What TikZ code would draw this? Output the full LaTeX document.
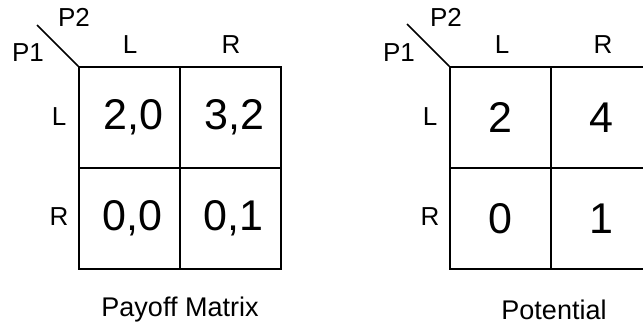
\documentclass[tikz,border=0pt]{standalone}
\usepackage{fontspec}
\setmainfont{Liberation Sans}
\begin{document}
\begin{tikzpicture}[x=1pt,y=-1pt,
  cell/.style={draw,line width=1.6pt,minimum width=101pt,minimum height=101pt,inner sep=0pt,font=\fontsize{43}{45}\selectfont},
  lab/.style={font=\fontsize{26}{28}\selectfont,inner sep=0pt},
  captiontext/.style={font=\fontsize{27}{29}\selectfont,inner sep=0pt}]
\useasboundingbox (0,0) rectangle (643,333);
\clip (0,0) rectangle (643,333);
% left matrix
\node[cell] (a11) at (129.5,117.5) {\hspace{8pt}2,0};
\node[cell] (a12) at (230.5,117.5) {\hspace{8pt}3,2};
\node[cell] (a21) at (129.5,218.5) {\hspace{6pt}0,0};
\node[cell] (a22) at (230.5,218.5) {\hspace{6pt}0,1};
\coordinate (ad) at (37,25);
\draw[line width=1.6pt] (a11.north west) -- (ad);
\node[lab] (ap2) at (74,17) {P2};
\node[lab] (ap1) at (28,53) {P1};
\node[lab] (acl) at (130,45) {L};
\node[lab] (acr) at (231,45) {R};
\node[lab] (arl) at (59,117) {L};
\node[lab] (arr) at (59,217) {R};
\node[captiontext] (acap) at (180,310) {Payoff Matrix};
% right matrix
\node[cell] (b11) at (500.5,117.5) {2};
\node[cell] (b12) at (601.5,117.5) {4};
\node[cell] (b21) at (500.5,218.5) {0};
\node[cell] (b22) at (601.5,218.5) {1};
\coordinate (bd) at (407,24);
\draw[line width=1.6pt] (b11.north west) -- (bd);
\node[lab] (bp2) at (446,17) {P2};
\node[lab] (bp1) at (399,53) {P1};
\node[lab] (bcl) at (502,45) {L};
\node[lab] (bcr) at (603,45) {R};
\node[lab] (brl) at (430,117) {L};
\node[lab] (brr) at (430,217) {R};
\node[captiontext] (bcap) at (554,310) {Potential};
\end{tikzpicture}
\end{document}
